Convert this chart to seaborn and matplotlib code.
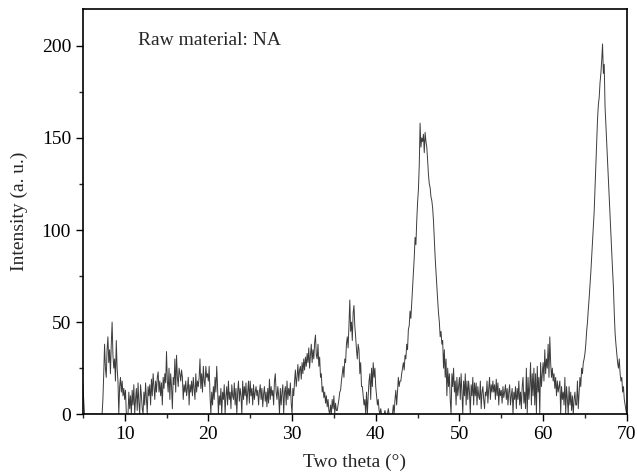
import numpy as np
import pandas as pd
import matplotlib
matplotlib.use("Agg")
import matplotlib.pyplot as plt
from matplotlib.ticker import MultipleLocator
import seaborn as sns

# Two theta from 5.0 to 70.0 in 0.1 degree steps (one row of 10 values per degree)
two_theta_start = 5.0
two_theta_step = 0.1

intensity = [
    17, 8, 0, 0, 0, 0, 0, 0, 0, 0,                    # 5
    0, 0, 0, 0, 0, 0, 0, 0, 0, 0,                     # 6
    0, 0, 0, 0, 8, 22, 38, 25, 20, 35,                # 7
    42, 28, 35, 22, 38, 50, 32, 25, 30, 18,           # 8
    40, 25, 18, 0, 15, 20, 12, 18, 10, 14,            # 9
    8, 13, 0, 0, 0, 12, 3, 10, 0, 13,                 # 10
    5, 16, 0, 8, 14, 2, 17, 6, 0, 16,                 # 11
    10, 3, 0, 12, 5, 17, 8, 0, 15, 10,                # 12
    16, 5, 19, 10, 22, 15, 8, 18, 12, 20,             # 13
    23, 12, 18, 10, 17, 5, 20, 14, 22, 17,            # 14
    34, 18, 12, 25, 8, 22, 15, 3, 20, 16,             # 15
    30, 12, 32, 20, 15, 25, 22, 18, 24, 20,           # 16
    8, 16, 12, 18, 10, 14, 20, 5, 16, 12,             # 17
    18, 10, 20, 14, 8, 22, 12, 18, 15, 20,            # 18
    30, 14, 22, 12, 26, 18, 15, 26, 20, 22,           # 19
    18, 26, 10, 0, 12, 5, 15, 8, 20, 12,              # 20
    26, 15, 0, 10, 5, 14, 0, 12, 8, 16,               # 21
    0, 10, 15, 5, 18, 8, 12, 3, 16, 10,               # 22
    8, 17, 5, 14, 0, 12, 18, 7, 14, 10,               # 23
    0, 18, 8, 15, 10, 17, 5, 12, 18, 6,               # 24
    18, 10, 14, 5, 16, 8, 12, 15, 10, 13,             # 25
    5, 12, 16, 8, 14, 4, 11, 15, 7, 12,               # 26
    4, 14, 6, 19, 8, 15, 10, 13, 5, 18,               # 27
    22, 12, 8, 15, 10, 0, 14, 5, 12, 16,              # 28
    0, 12, 15, 5, 18, 8, 14, 10, 17, 6,               # 29
    0, 14, 10, 18, 24, 15, 20, 27, 18, 24,            # 30
    26, 19, 28, 22, 30, 24, 31, 26, 33, 28,           # 31
    36, 25, 32, 38, 28, 35, 30, 39, 43, 32,           # 32
    30, 38, 26, 31, 20, 22, 12, 15, 9, 12,            # 33
    6, 10, 4, 8, 2, 0, 5, 0, 8, 3,                    # 34
    10, 0, 6, 2, 2, 5, 8, 12, 13, 18,                 # 35
    22, 26, 20, 30, 28, 38, 42, 36, 48, 62,           # 36
    45, 50, 40, 55, 59, 48, 42, 35, 30, 38,           # 37
    35, 22, 28, 15, 15, 10, 5, 8, 0, 12,              # 38
    0, 10, 18, 22, 8, 25, 15, 28, 20, 25,             # 39
    15, 10, 5, 8, 2, 0, 3, 0, 0, 0,                   # 40
    0, 2, 0, 0, 0, 3, 0, 0, 0, 0,                     # 41
    0, 5, 0, 8, 13, 5, 12, 20, 15, 18,                # 42
    18, 22, 25, 28, 24, 32, 30, 38, 35, 46,           # 43
    48, 56, 52, 60, 67, 75, 85, 96, 92, 105,          # 44
    115, 122, 135, 158, 145, 150, 148, 152, 142, 153, # 45
    148, 145, 138, 130, 125, 123, 118, 116, 112, 105, # 46
    95, 85, 77, 70, 62, 55, 50, 42, 45, 38,           # 47
    40, 25, 35, 20, 30, 10, 25, 15, 22, 8,            # 48
    0, 22, 15, 25, 12, 18, 5, 20, 10, 15,             # 49
    20, 8, 22, 12, 0, 18, 10, 22, 5, 18,              # 50
    8, 18, 12, 0, 16, 10, 20, 5, 17, 10,              # 51
    17, 5, 15, 10, 8, 18, 3, 12, 15, 8,               # 52
    3, 12, 10, 18, 6, 14, 20, 8, 16, 12,              # 53
    18, 12, 16, 8, 19, 10, 17, 5, 14, 10,             # 54
    13, 6, 15, 9, 12, 16, 8, 14, 5, 12,               # 55
    16, 5, 10, 14, 0, 12, 8, 15, 3, 14,               # 56
    8, 18, 5, 12, 3, 15, 20, 6, 12, 3,                # 57
    25, 0, 20, 8, 15, 28, 5, 22, 10, 25,              # 58
    5, 22, 0, 26, 12, 20, 0, 28, 15, 22,              # 59
    28, 18, 35, 22, 30, 25, 38, 20, 42, 28,           # 60
    20, 25, 18, 22, 14, 20, 10, 18, 12, 15,           # 61
    18, 0, 15, 8, 12, 5, 20, 0, 15, 8,                # 62
    0, 15, 5, 12, 2, 10, 0, 8, 12, 5,                 # 63
    5, 18, 3, 12, 20, 15, 25, 22, 28, 30,             # 64
    33, 38, 45, 50, 57, 63, 70, 77, 85, 93,           # 65
    100, 110, 122, 135, 148, 160, 168, 172, 180, 185, # 66
    192, 201, 185, 190, 167, 157, 148, 138, 128, 118, # 67
    108, 98, 88, 78, 69, 55, 44, 38, 33, 28,          # 68
    25, 30, 22, 18, 20, 12, 15, 8, 5, 2,              # 69
    0,                                                # 70
]

x_ticks = [10, 20, 30, 40, 50, 60, 70]
y_ticks = [0, 50, 100, 150, 200]
annotation = "Raw material: NA"
x_label = "Two theta (°)"
y_label = "Intensity (a. u.)"

two_theta = [round(two_theta_start + two_theta_step * i, 1) for i in range(len(intensity))]
df = pd.DataFrame({"two_theta": two_theta, "intensity": intensity})

sns.set_style("ticks")
plt.rcParams["font.family"] = ["Liberation Serif", "DejaVu Serif"]

fig = plt.figure(figsize=(6.37, 4.75), dpi=100)
ax = fig.add_axes([0.130, 0.128, 0.854, 0.853])

sns.lineplot(data=df, x="two_theta", y="intensity", ax=ax, color="#3c3c3c",
             linewidth=0.7, estimator=None)

ax.set_xlim(5, 70)
ax.set_ylim(0, 220)
ax.set_xticks(x_ticks)
ax.set_yticks(y_ticks)
ax.xaxis.set_minor_locator(MultipleLocator(5))
ax.yaxis.set_minor_locator(MultipleLocator(25))
ax.tick_params(axis="both", which="major", direction="out", length=5, width=1,
               labelsize=14, colors="black", top=False, right=False)
ax.tick_params(axis="both", which="minor", direction="out", length=3, width=1,
               top=False, right=False)
for s in ax.spines.values():
    s.set_linewidth(1.2)
    s.set_color("black")
    s.set_visible(True)

ax.set_xlabel(x_label, fontsize=14, labelpad=8)
ax.set_ylabel(y_label, fontsize=14, labelpad=10)
ax.text(11.6, 203, annotation, fontsize=14, va="center", ha="left")

fig.savefig("out.png", dpi=100)
